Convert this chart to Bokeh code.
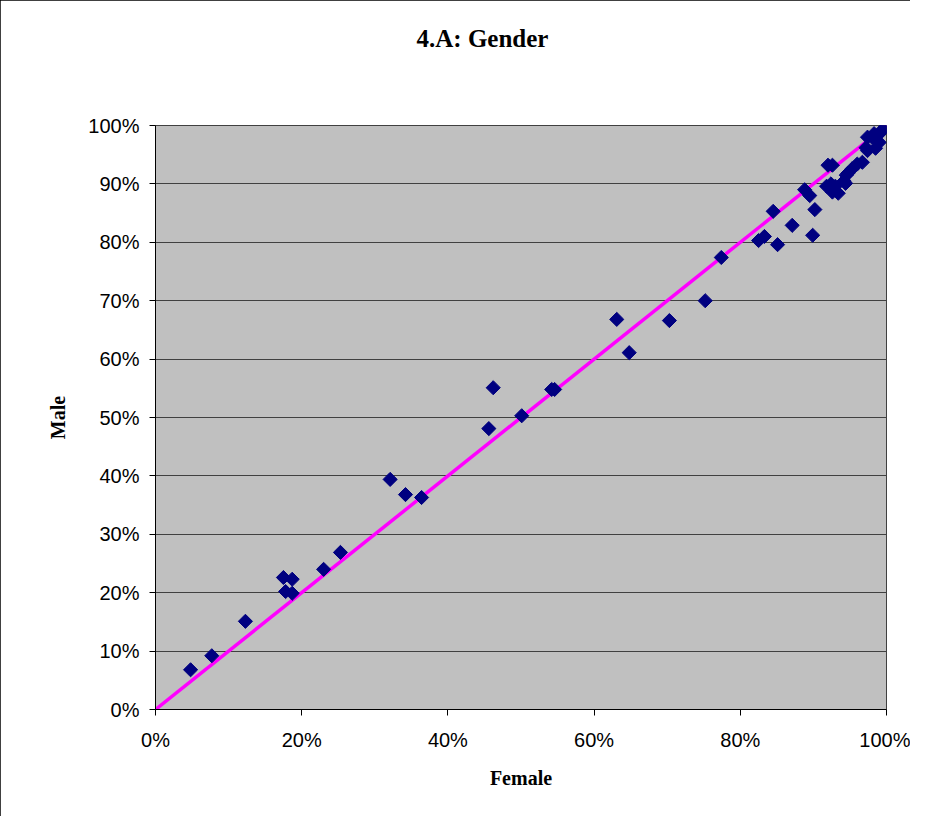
from bokeh.plotting import figure
from bokeh.models import ColumnDataSource, FixedTicker, NumeralTickFormatter, Range1d, Title
from bokeh.embed import file_html
from bokeh.resources import INLINE
import math

# Female share (x) and male share (y), in percent
female = [4.8, 7.7, 12.3, 17.5, 18.7, 17.8, 18.7, 23.0, 25.3, 32.1, 34.2, 36.4,
          45.6, 46.2, 50.1, 54.2, 54.6, 63.1, 64.8, 70.3, 75.2, 77.4, 82.5, 83.3,
          84.5, 85.1, 87.1, 89.9, 90.2, 88.8, 89.5, 92.0, 92.6, 91.8, 92.4, 92.6,
          93.4, 93.0, 94.4, 94.2, 94.7, 94.5, 95.3, 96.0, 96.7, 97.4, 98.0, 97.2,
          98.5, 98.6, 98.8, 99.2, 99.5, 99.8, 100.0, 98.3, 99.0, 97.4]
male = [6.8, 9.2, 15.1, 22.6, 22.3, 20.2, 19.9, 24.0, 26.9, 39.4, 36.8, 36.3,
        48.1, 55.1, 50.3, 54.8, 54.8, 66.8, 61.1, 66.6, 70.0, 77.4, 80.3, 81.0,
        85.3, 79.6, 82.9, 81.2, 85.6, 89.0, 88.0, 93.2, 93.2, 89.6, 90.0, 88.6,
        88.4, 89.6, 90.1, 90.5, 91.8, 91.5, 92.6, 93.4, 93.7, 98.0, 98.0, 96.2,
        96.1, 97.5, 98.4, 98.8, 99.3, 99.7, 100.0, 98.6, 97.1, 95.7]

# Reference diagonal (equal shares)
diag_x = [0, 100]
diag_y = [0, 100]

x_ticks = [0, 20, 40, 60, 80, 100]
y_ticks = [0, 10, 20, 30, 40, 50, 60, 70, 80, 90, 100]

title_text = "4.A: Gender"
x_title = "Female"
y_title = "Male"

src = ColumnDataSource(dict(x=[v / 100 for v in female], y=[v / 100 for v in male]))

p = figure(width=910, height=816, output_backend="svg", toolbar_location=None,
           x_range=Range1d(0, 1), y_range=Range1d(0, 1), title=None,
           min_border_left=155, min_border_right=24, min_border_top=125, min_border_bottom=107)

main_title = Title(text=title_text, align="left", offset=261,
                   text_font="Liberation Serif", text_font_size="25px", text_font_style="bold",
                   text_color="black")
spacer = Title(text=" ", text_font_size="51px")
p.above = [spacer, main_title]

p.background_fill_color = "#C0C0C0"
p.border_fill_color = "white"
p.outline_line_color = "#404040"
p.outline_line_width = 1
p.styles = {"outline": "1px solid black", "outline-offset": "-1px"}

p.xgrid.grid_line_color = None
p.ygrid.grid_line_color = "#404040"
p.ygrid.grid_line_width = 1

for ax in (p.xaxis[0], p.yaxis[0]):
    ax.axis_line_color = "black"
    ax.axis_line_width = 1
    ax.major_tick_line_color = "black"
    ax.major_tick_out = 6
    ax.major_tick_in = 0
    ax.minor_tick_line_color = None
    ax.formatter = NumeralTickFormatter(format="0%")
    ax.major_label_text_font = "Liberation Sans"
    ax.major_label_text_font_size = "20px"
    ax.major_label_text_color = "black"
    ax.axis_label_text_font = "Liberation Serif"
    ax.axis_label_text_font_size = "20px"
    ax.axis_label_text_font_style = "bold"
    ax.axis_label_text_color = "black"

p.xaxis[0].ticker = FixedTicker(ticks=[t / 100 for t in x_ticks])
p.yaxis[0].ticker = FixedTicker(ticks=[t / 100 for t in y_ticks])
p.xaxis[0].axis_label = x_title
p.yaxis[0].axis_label = y_title
p.xaxis[0].major_label_standoff = 13
p.xaxis[0].axis_label_standoff = 13
p.yaxis[0].major_label_standoff = 10
p.yaxis[0].axis_label_standoff = 16

p.line([v / 100 for v in diag_x], [v / 100 for v in diag_y], line_color="#FF00FF", line_width=3.5)
p.scatter("x", "y", source=src, marker="square", angle=math.pi / 4, size=10,
          fill_color="#000080", line_color="#000080")

open("out.html", "w").write(file_html(p, INLINE))
